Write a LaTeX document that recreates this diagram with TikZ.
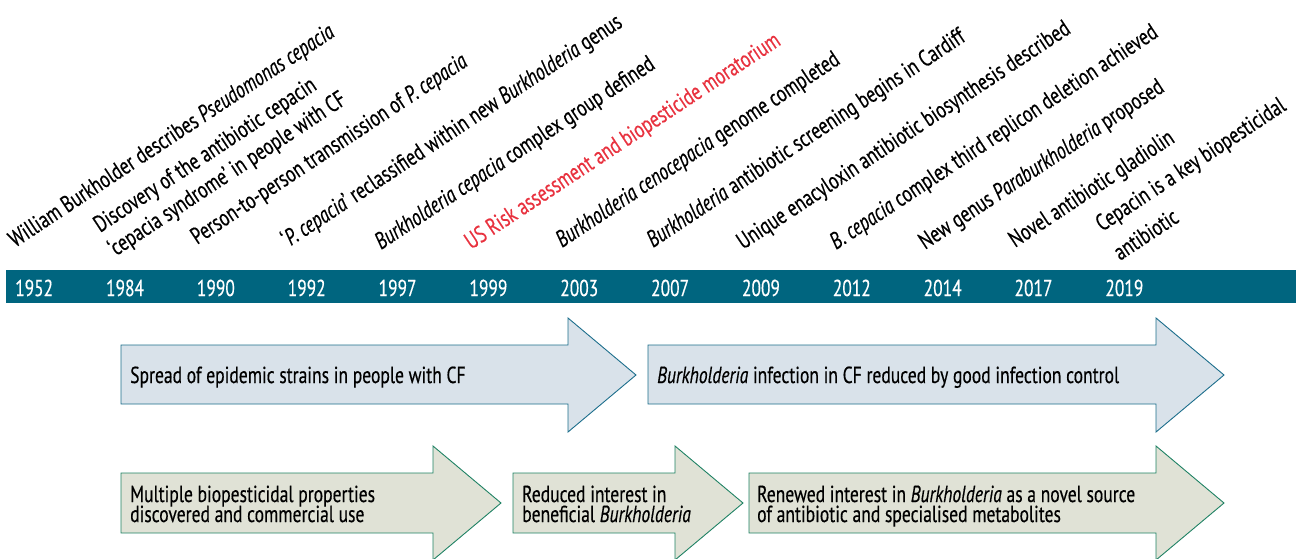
\documentclass[tikz,border=0pt]{standalone}
\usepackage{fontspec}
\setmainfont{PT Sans}[FakeStretch=0.757, FakeBold=0.4]
\definecolor{barcol}{HTML}{00657F}
\definecolor{bluefill}{HTML}{D9E2EA}
\definecolor{blueedge}{HTML}{1C6E8C}
\definecolor{greenfill}{HTML}{E0E2D6}
\definecolor{greenedge}{HTML}{1F8264}
\definecolor{redtext}{HTML}{E8323F}
\begin{document}
\begin{tikzpicture}[x=1pt,y=-1pt,
  lbl/.style={font=\fontsize{23.5}{26}\selectfont, anchor=base west, rotate=33.5, inner sep=0pt},
  yr/.style={font=\fontsize{23}{23}\selectfont, text=white, anchor=base west, inner sep=0pt},
  atext/.style={font=\fontsize{23.2}{23}\selectfont, anchor=base west, inner sep=0pt},
  bluearrow/.style={fill=bluefill, draw=blueedge, line width=0.9pt, line join=miter},
  greenarrow/.style={fill=greenfill, draw=greenedge, line width=0.9pt, line join=miter}]
\useasboundingbox (0,0) rectangle (1304,558);
\clip (0,0) rectangle (1304,558);
% timeline bar
\fill[barcol] (6,270) rectangle (1296,303);
\foreach \yy [count=\i from 0] in {1952,1984,1990,1992,1997,1999,2003,2007,2009,2012,2014,2017,2019}
  \node[yr] (y\i) at ({15+90.85*\i},296) {\yy};
% event labels
\node[lbl] (l0) at (15,248) {William Burkholder describes \textit{Pseudomonas cepacia}};
\node[lbl] (l1a) at (100,233) {Discovery of the antibiotic cepacin};
\node[lbl] (l1b) at (115,257) {‘cepacia syndrome’ in people with CF};
\node[lbl] (l2) at (197,245) {Person-to-person transmission of \textit{P. cepacia}};
\node[lbl] (l3) at (288,248) {‘\textit{P. cepacia}’ reclassified within new \textit{Burkholderia} genus};
\node[lbl] (l4) at (381,250) {\textit{Burkholderia cepacia} complex group defined};
\node[lbl, text=redtext] (l5) at (471,250) {US Risk assessment and biopesticide moratorium};
\node[lbl] (l6) at (562,248) {\textit{Burkholderia cenocepacia} genome completed};
\node[lbl] (l7) at (653,248) {\textit{Burkholderia} antibiotic screening begins in Cardiff};
\node[lbl] (l8) at (743,250) {Unique enacyloxin antibiotic biosynthesis described};
\node[lbl] (l9) at (836,250) {\textit{B. cepacia} complex third replicon deletion achieved};
\node[lbl] (l10) at (925,250) {New genus \textit{Paraburkholderia} proposed};
\node[lbl] (l11) at (1015,248) {Novel antibiotic gladiolin};
\node[lbl] (l12a) at (1102,232) {Cepacin is a key biopesticidal};
\node[lbl] (l12b) at (1120,261) {antibiotic};
% blue arrows
\draw[bluearrow] (121,345) -- (568,345) -- (568,318) -- (636,375) -- (568,432) -- (568,404) -- (121,404) -- cycle;
\node[atext] (a1) at (130,383) {Spread of epidemic strains in people with CF};
\draw[bluearrow] (648,345) -- (1156,345) -- (1156,318) -- (1224,375) -- (1156,432) -- (1156,404) -- (648,404) -- cycle;
\node[atext] (a2) at (657,383) {\textit{Burkholderia} infection in CF reduced by good infection control};
% green arrows
\draw[greenarrow] (121,473) -- (433,473) -- (433,446) -- (501,503) -- (433,560) -- (433,533) -- (121,533) -- cycle;
\node[atext] (b1a) at (130,502) {Multiple biopesticidal properties};
\node[atext] (b1b) at (130,522) {discovered and commercial use};
\draw[greenarrow] (513,473) -- (675,473) -- (675,446) -- (743,503) -- (675,560) -- (675,533) -- (513,533) -- cycle;
\node[atext] (b2a) at (522,502) {Reduced interest in};
\node[atext] (b2b) at (522,522) {beneficial \textit{Burkholderia}};
\draw[greenarrow] (749,473) -- (1156,473) -- (1156,446) -- (1224,503) -- (1156,560) -- (1156,533) -- (749,533) -- cycle;
\node[atext] (b3a) at (757,502) {Renewed interest in \textit{Burkholderia} as a novel source};
\node[atext] (b3b) at (757,522) {of antibiotic and specialised metabolites};
\end{tikzpicture}
\end{document}
